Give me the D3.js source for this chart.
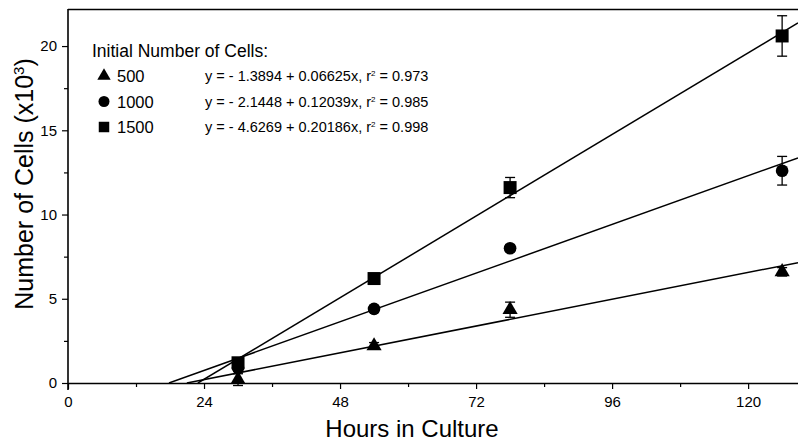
<html>
<head>
<style>
  body { margin: 0; background: #fff; }
  text { font-family: "Liberation Sans", Arial, sans-serif; fill: #000; }
</style>
</head>
<body>
<script src="https://d3js.org/d3.v7.min.js"></script>
<script>
// data
var hours = [30, 54, 78, 126];
var cells500 = [0.2, 2.2, 4.35, 6.6];
var cells1000 = [0.9, 4.4, 8.0, 12.6];
var cells1500 = [1.2, 6.2, 11.6, 20.6];
var err500 = [0.35, 0.2, 0.45, 0.25];
var err1000 = [0.2, 0.2, 0.2, 0.85];
var err1500 = [0.25, 0.2, 0.6, 1.2];
var seriesNames = ["500", "1000", "1500"];
var intercepts = [-1.3894, -2.1448, -4.6269];
var slopes = [0.06625, 0.12039, 0.20186];
var r2Labels = ["0.973", "0.985", "0.998"];
var xTicks = [0, 24, 48, 72, 96, 120];
var xMinor = [12, 36, 60, 84, 108];
var yTicks = [0, 5, 10, 15, 20];
var yMinor = [2.5, 7.5, 12.5, 17.5];

var width = 798, height = 441;
var svg = d3.select("body").append("svg")
    .attr("width", width)
    .attr("height", height);

var x = d3.scaleLinear().domain([0, 128.8]).range([68, 798]);
var y = d3.scaleLinear().domain([0, 22.2]).range([383, 9]);

svg.append("clipPath").attr("id", "plot")
  .append("rect").attr("x", 68).attr("y", 9).attr("width", 730).attr("height", 374);

// top border
svg.append("line")
    .attr("x1", 68).attr("x2", 798).attr("y1", 9.5).attr("y2", 9.5)
    .attr("stroke", "#000").attr("stroke-width", 1.3);

// axes
svg.append("g")
    .attr("transform", "translate(0,383)")
    .call(d3.axisBottom(x).tickValues(xTicks).tickSize(6).tickSizeOuter(0).tickPadding(7));
svg.append("g")
    .attr("transform", "translate(0,383)")
    .call(d3.axisBottom(x).tickValues(xMinor).tickSize(4).tickFormat(""))
    .select(".domain").remove();
var yAxis = svg.append("g")
    .attr("transform", "translate(68,0)")
    .call(d3.axisLeft(y).tickValues(yTicks).tickSize(6).tickSizeOuter(0).tickPadding(5));
svg.append("g")
    .attr("transform", "translate(68,0)")
    .call(d3.axisLeft(y).tickValues(yMinor).tickSize(4).tickFormat(""))
    .select(".domain").remove();

svg.selectAll(".domain").attr("stroke-width", 1.6);
svg.selectAll(".tick line").attr("stroke-width", 1.2);
svg.selectAll(".tick text").style("font-size", "15px")
    .style("font-family", '"Liberation Sans", Arial, sans-serif');
yAxis.select(".domain").attr("d", "M0,9V390");

// axis titles
svg.append("text")
    .attr("x", 412).attr("y", 437)
    .attr("text-anchor", "middle")
    .style("font-size", "24px")
    .text("Hours in Culture");
var yt = svg.append("text")
    .attr("transform", "translate(33,184) rotate(-90)")
    .attr("text-anchor", "middle")
    .style("font-size", "25px");
yt.append("tspan").text("Number of Cells (x10");
yt.append("tspan").attr("dy", -9).style("font-size", "15px").text("3");
yt.append("tspan").attr("dy", 9).text(")");

// regression lines
var lines = svg.append("g").attr("clip-path", "url(#plot)");
seriesNames.forEach(function(n, i) {
  var x0 = -intercepts[i] / slopes[i];
  var x1 = x.domain()[1];
  lines.append("line")
    .attr("x1", x(x0)).attr("y1", y(0))
    .attr("x2", x(x1)).attr("y2", y(intercepts[i] + slopes[i] * x1))
    .attr("stroke", "#000").attr("stroke-width", 1.5);
});

// points with error bars
var series = [
  { vals: cells500, err: err500, sym: d3.symbolTriangle, size: 100 },
  { vals: cells1000, err: err1000, sym: d3.symbolCircle, size: 126 },
  { vals: cells1500, err: err1500, sym: d3.symbolSquare, size: 169 }
];
series.forEach(function(s) {
  var g = svg.append("g");
  hours.forEach(function(h, j) {
    var cx = x(h), v = s.vals[j], e = s.err[j];
    g.append("line").attr("x1", cx).attr("x2", cx)
      .attr("y1", y(v - e)).attr("y2", y(v + e))
      .attr("stroke", "#000").attr("stroke-width", 1.3);
    [v - e, v + e].forEach(function(ev) {
      g.append("line").attr("x1", cx - 5).attr("x2", cx + 5)
        .attr("y1", y(ev)).attr("y2", y(ev))
        .attr("stroke", "#000").attr("stroke-width", 1.3);
    });
    g.append("path")
      .attr("d", d3.symbol().type(s.sym).size(s.size)())
      .attr("transform", "translate(" + cx + "," + y(v) + ")")
      .attr("fill", "#000");
  });
});

// legend
var leg = svg.append("g");
leg.append("text").attr("x", 92).attr("y", 57).style("font-size", "17.5px")
    .text("Initial Number of Cells:");
var legSyms = [d3.symbolTriangle, d3.symbolCircle, d3.symbolSquare];
var legSizes = [78, 95, 110];
seriesNames.forEach(function(n, i) {
  var ly = 76 + i * 25.5;
  leg.append("path")
    .attr("d", d3.symbol().type(legSyms[i]).size(legSizes[i])())
    .attr("transform", "translate(104," + ly + ")")
    .attr("fill", "#000");
  leg.append("text").attr("x", 117).attr("y", ly + 6).style("font-size", "16.5px").text(n);
  var t = leg.append("text").attr("x", 205).attr("y", ly + 5).style("font-size", "14.5px");
  t.append("tspan").text("y = - " + Math.abs(intercepts[i]).toFixed(4) +
      " + " + slopes[i].toFixed(5) + "x, r");
  t.append("tspan").attr("dy", -5).style("font-size", "8px").text("2");
  t.append("tspan").attr("dy", 5).text(" = " + r2Labels[i]);
});
</script>
</body>
</html>
